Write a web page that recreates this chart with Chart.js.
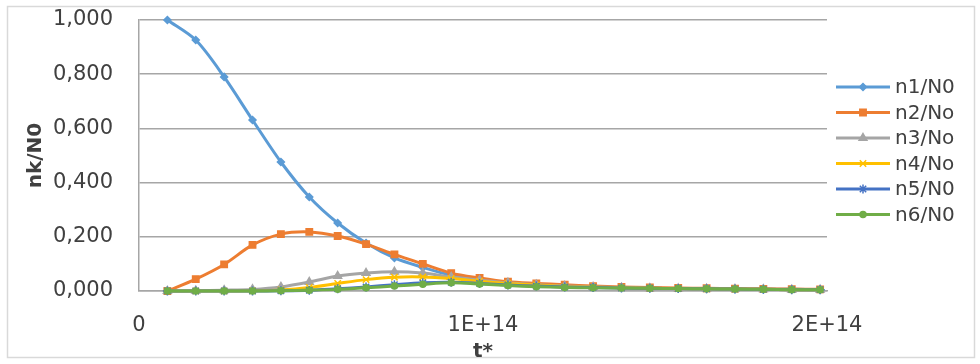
<!DOCTYPE html>
<html>
<head>
<meta charset="utf-8">
<script src="https://cdn.jsdelivr.net/npm/chart.js@4.4.0/dist/chart.umd.min.js"></script>
<style>
  html, body { margin: 0; padding: 0; background: #fff; }
  #wrap { width: 980px; height: 364px; }
</style>
</head>
<body>
<div id="wrap"><canvas id="c" width="980" height="364"></canvas></div>
<script>
// Dimensionless time t* of each sample
const tStar = [8.25e12, 16.5e12, 24.75e12, 33e12, 41.25e12, 49.5e12, 57.75e12, 66e12,
               74.25e12, 82.5e12, 90.75e12, 99e12, 107.25e12, 115.5e12, 123.75e12, 132e12,
               140.25e12, 148.5e12, 156.75e12, 165e12, 173.25e12, 181.5e12, 189.75e12, 198e12];

// Fractions nk/N0 for k = 1..6
const n1 = [1.000, 0.926, 0.790, 0.631, 0.476, 0.347, 0.251, 0.177, 0.122, 0.087, 0.058, 0.040,
            0.029, 0.022, 0.017, 0.014, 0.012, 0.010, 0.009, 0.008, 0.007, 0.006, 0.006, 0.005];
const n2 = [0.000, 0.044, 0.098, 0.170, 0.210, 0.218, 0.203, 0.173, 0.135, 0.100, 0.066, 0.048,
            0.034, 0.028, 0.023, 0.018, 0.015, 0.013, 0.011, 0.010, 0.009, 0.008, 0.007, 0.006];
const n3 = [0.000, 0.001, 0.003, 0.006, 0.015, 0.033, 0.055, 0.066, 0.071, 0.066, 0.052, 0.040,
            0.030, 0.023, 0.018, 0.015, 0.012, 0.010, 0.009, 0.008, 0.007, 0.006, 0.005, 0.005];
const n4 = [0.000, 0.000, 0.000, 0.001, 0.004, 0.013, 0.028, 0.042, 0.051, 0.052, 0.046, 0.036,
            0.028, 0.022, 0.017, 0.014, 0.012, 0.010, 0.009, 0.008, 0.007, 0.006, 0.005, 0.005];
const n5 = [0.000, 0.000, 0.000, 0.000, 0.001, 0.003, 0.008, 0.015, 0.023, 0.030, 0.032, 0.028,
            0.022, 0.018, 0.015, 0.013, 0.011, 0.010, 0.009, 0.008, 0.007, 0.006, 0.005, 0.005];
const n6 = [0.000, 0.000, 0.000, 0.000, 0.001, 0.003, 0.006, 0.012, 0.018, 0.025, 0.030, 0.026,
            0.020, 0.016, 0.013, 0.012, 0.011, 0.010, 0.009, 0.008, 0.007, 0.006, 0.005, 0.005];

const seriesNames = ['n1/N0', 'n2/No', 'n3/No', 'n4/No', 'n5/N0', 'n6/N0'];
const xTickValues = [0, 1e14, 2e14];
const xTickLabels = ['0', '1E+14', '2E+14'];

const seriesValues = [n1, n2, n3, n4, n5, n6];
const colors = ['#5B9BD5', '#ED7D31', '#A5A5A5', '#FFC000', '#4472C4', '#70AD47'];
const markers = [
  { pointStyle: 'rectRot', radius: 3.5 },
  { pointStyle: 'rect', radius: 4.5 },
  { pointStyle: 'triangle', radius: 4.5 },
  { pointStyle: 'crossRot', radius: 4.5 },
  { pointStyle: 'star', radius: 4.5 },
  { pointStyle: 'circle', radius: 3 }
];

const datasets = seriesValues.map((vals, i) => ({
  label: seriesNames[i],
  data: vals.map((v, j) => ({ x: tStar[j], y: v })),
  borderColor: colors[i],
  backgroundColor: colors[i],
  borderWidth: 3,
  pointStyle: markers[i].pointStyle,
  pointRadius: markers[i].radius,
  pointBorderWidth: 1.5,
  pointBorderColor: colors[i],
  pointBackgroundColor: colors[i],
  tension: 0.3,
  order: seriesValues.length - i,
  clip: 10
}));

const FONT = "'DejaVu Sans', sans-serif";

// White background and thin outer frame
const framePlugin = {
  id: 'frame',
  beforeDraw(chart) {
    const ctx = chart.ctx;
    ctx.save();
    ctx.fillStyle = '#ffffff';
    ctx.fillRect(0, 0, chart.width, chart.height);
    ctx.strokeStyle = '#D9D9D9';
    ctx.lineWidth = 1.5;
    ctx.strokeRect(7.5, 6.5, chart.width - 13, chart.height - 13);
    ctx.restore();
  }
};

// Legend to the right: line sample with marker, then the series name
const legendPlugin = {
  id: 'sideLegend',
  afterDraw(chart) {
    const ctx = chart.ctx;
    const x0 = chart.chartArea.right + 9;
    const lineLen = 54;
    const y0 = 87, gap = 25.5;
    ctx.save();
    chart.data.datasets.forEach((ds, i) => {
      const y = y0 + i * gap;
      ctx.strokeStyle = ds.borderColor;
      ctx.lineWidth = 3;
      ctx.beginPath();
      ctx.moveTo(x0, y);
      ctx.lineTo(x0 + lineLen, y);
      ctx.stroke();
      ctx.fillStyle = ds.borderColor;
      ctx.lineWidth = 1.5;
      Chart.helpers.drawPoint(ctx, { pointStyle: ds.pointStyle, radius: ds.pointRadius, rotation: 0, borderWidth: 1.5 }, x0 + lineLen / 2, y);
      ctx.fillStyle = '#404040';
      ctx.font = '20px ' + FONT;
      ctx.textAlign = 'left';
      ctx.textBaseline = 'middle';
      ctx.fillText(ds.label, x0 + lineLen + 5, y + 1);
    });
    ctx.restore();
  }
};

new Chart(document.getElementById('c'), {
  type: 'line',
  data: { datasets },
  plugins: [framePlugin, legendPlugin],
  options: {
    responsive: false,
    animation: false,
    layout: { padding: { left: 8, right: 153, top: 20, bottom: 0 } },
    plugins: { legend: { display: false }, tooltip: { enabled: false } },
    scales: {
      x: {
        type: 'linear',
        min: 0,
        max: 2e14,
        afterFit(scale) { scale.height = 73; },
        afterBuildTicks(scale) { scale.ticks = xTickValues.map(v => ({ value: v })); },
        ticks: {
          padding: 22,
          color: '#404040',
          font: { family: FONT, size: 21 },
          maxRotation: 0,
          callback: (v) => xTickLabels[xTickValues.indexOf(v)]
        },
        grid: { display: false, drawTicks: false },
        border: { display: true, color: '#A6A6A6', width: 1.5 },
        title: {
          display: true,
          text: 't*',
          color: '#404040',
          font: { family: FONT, size: 20, weight: 'bold' },
          padding: { top: 0, bottom: 0 }
        }
      },
      y: {
        min: 0,
        max: 1,
        afterFit(scale) {
          scale.width = 131;
          scale.paddingTop = 0;
          scale.paddingBottom = 0;
        },
        ticks: {
          stepSize: 0.2,
          padding: 26,
          color: '#404040',
          font: { family: FONT, size: 21 },
          callback: (v) => v.toFixed(3).replace('.', ',')
        },
        grid: { color: '#A6A6A6', lineWidth: 1.5, drawTicks: false },
        border: { display: true, color: '#A6A6A6', width: 1.5 },
        title: {
          display: true,
          text: 'nk/N0',
          color: '#404040',
          font: { family: FONT, size: 20, weight: 'bold' },
          padding: { top: 16, bottom: 0 }
        }
      }
    }
  }
});
</script>
</body>
</html>
